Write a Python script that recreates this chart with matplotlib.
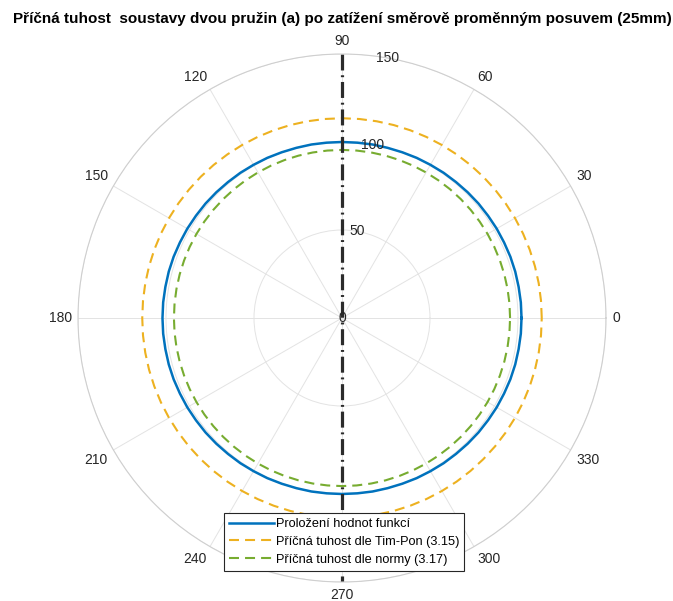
import numpy as np
import matplotlib
matplotlib.use("Agg")
import matplotlib.pyplot as plt

plt.rcParams["font.family"] = ["Liberation Sans", "DejaVu Sans"]

# angles of the evaluated directions (deg)
angles_deg = list(range(0, 361, 5))

# fitted function values, 0..175 deg, repeats for 180..355
fit_half = [102.0, 102.0, 101.9, 101.9, 101.8, 101.6, 101.5, 101.3, 101.2,
            101.0, 100.8, 100.7, 100.5, 100.4, 100.2, 100.1, 100.1, 100.0,
            100.0, 100.0, 100.1, 100.1, 100.2, 100.4, 100.5, 100.7, 100.8,
            101.0, 101.2, 101.3, 101.5, 101.6, 101.8, 101.9, 101.9, 102.0]
fit_values = fit_half + fit_half + [102.0]

# constant stiffness by formulas (3.15) and (3.17)
k_timpon = 113.5
k_norma = 95.5
timpon_values = [k_timpon] * len(angles_deg)
norma_values = [k_norma] * len(angles_deg)

# loading direction
load_dir_deg = [90, 90, 270]
load_r = [150, 0, 150]

r_max = 150
r_ticks = [0, 50, 100, 150]
r_label_deg = 80
theta_ticks = [0, 30, 60, 90, 120, 150, 180, 210, 240, 270, 300, 330]

labels = ["Proložení hodnot funkcí",
          "Příčná tuhost dle Tim-Pon (3.15)",
          "Příčná tuhost dle normy (3.17)"]

fig = plt.figure(figsize=(6.73, 6.01), dpi=100)
ax = fig.add_axes([78 / 673, 19 / 601, 528 / 673, 528 / 601],
                  projection="polar")

th = np.deg2rad(angles_deg)
ax.plot(th, fit_values, color="#0072BD", lw=1.8, label=labels[0])
ax.plot(th, timpon_values, color="#EDB120", lw=1.5, dashes=(4.8, 2.9),
        label=labels[1])
ax.plot(th, norma_values, color="#77AC30", lw=1.5, dashes=(4.8, 2.9),
        label=labels[2])
ax.plot(np.deg2rad(load_dir_deg), load_r, color="#2b2b2b", lw=2.3,
        linestyle=(0, (5, 1.5, 0.6, 1.5)))

ax.set_ylim(0, r_max)
ax.set_yticks(r_ticks)
ax.set_yticklabels([])
for r in r_ticks:
    ax.text(np.deg2rad(r_label_deg), r, str(r), ha="center", va="center",
            fontsize=10, color="#262626")

# angle labels placed just outside the outer ring, aligned by their edge
ax.set_xticks(np.deg2rad(theta_ticks))
ax.set_xticklabels([])
for t in theta_ticks:
    c, s = np.cos(np.deg2rad(t)), np.sin(np.deg2rad(t))
    ha = "left" if c > 0.1 else ("right" if c < -0.1 else "center")
    va = "bottom" if s > 0.1 else ("top" if s < -0.1 else "center")
    ax.annotate(str(t), xy=(np.deg2rad(t), r_max), xytext=(4.5 * c, 4.5 * s),
                textcoords="offset points", ha=ha, va=va, fontsize=10,
                color="#262626", annotation_clip=False)

ax.grid(True, color="#e3e3e3", lw=0.7)
ax.spines["polar"].set_color("#cfcfcf")
ax.spines["polar"].set_linewidth(0.8)

leg = fig.legend(loc="upper left", bbox_to_anchor=(224 / 673, 1 - 513 / 601),
                 fontsize=9.2, handlelength=3.5, handletextpad=0.15,
                 borderpad=0.4, labelspacing=0.45, fancybox=False,
                 framealpha=1, edgecolor="#262626", borderaxespad=0)
leg.get_frame().set_linewidth(0.8)

fig.text(342 / 673, 1 - 19 / 601,
         "Příčná tuhost  soustavy dvou pružin (a) po zatížení směrově "
         "proměnným posuvem (25mm)",
         ha="center", va="center", fontsize=11, fontweight="bold")

fig.savefig("out.png", dpi=100)
